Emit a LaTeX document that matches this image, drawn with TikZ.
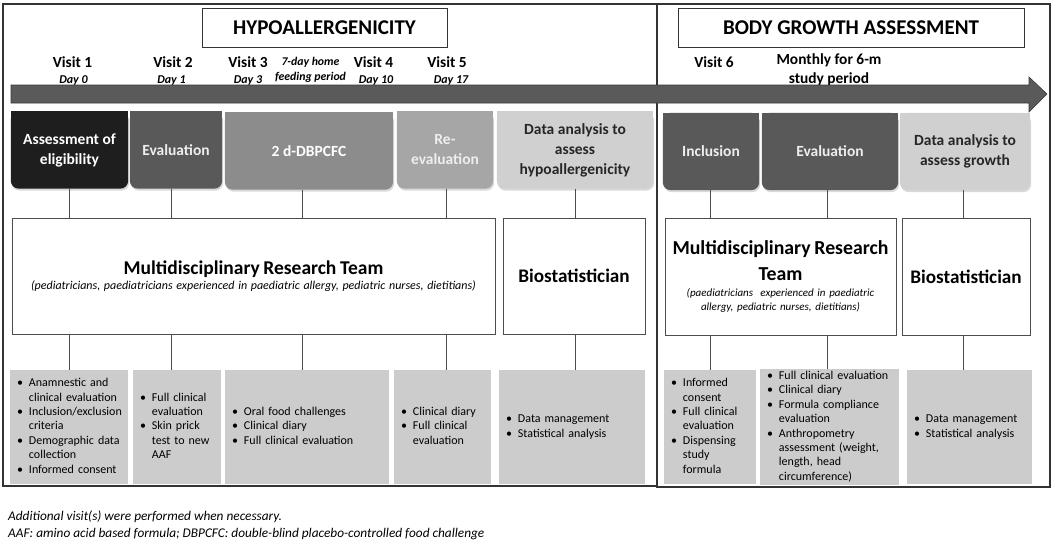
\documentclass[tikz,border=0pt]{standalone}
\usepackage{fontspec}
\setmainfont{Carlito}
\usetikzlibrary{backgrounds, shadows}

\definecolor{framegray}{HTML}{333333}
\definecolor{linegray}{HTML}{4D4D4D}
\definecolor{arrowfill}{HTML}{5A5A5A}
\definecolor{arrowdraw}{HTML}{3A3A3A}
\definecolor{phaseA}{HTML}{1E1E1E}
\definecolor{phaseB}{HTML}{595959}
\definecolor{phaseC}{HTML}{8C8C8C}
\definecolor{phaseD}{HTML}{A6A6A6}
\definecolor{phaseE}{HTML}{D0D0D0}
\definecolor{taskgray}{HTML}{CCCCCC}
\definecolor{softwhite}{HTML}{EEEEEE}

\newcommand{\fsz}[2]{\fontsize{#1}{#2}\selectfont}
\newcommand{\tasklist}[1]{\begin{tabular}{@{}l@{\hspace{6pt}}l@{}}#1\end{tabular}}

\begin{document}
\begin{tikzpicture}[
    x=1pt, y=-1pt,
    frame/.style = {draw=framegray, line width=1.2pt},
    titlebox/.style = {rectangle, draw=framegray, fill=white, minimum height=39pt, font=\bfseries\fsz{21}{25}},
    visit/.style = {font=\bfseries\fsz{15.4}{19}, align=center},
    day/.style = {font=\bfseries\itshape\fsz{12}{14}, align=center},
    phase/.style = {inner sep=0pt, align=center, minimum height=77pt, font=\bfseries\fsz{15.5}{20}},
    team/.style = {rectangle, draw=linegray, fill=white, align=center, minimum height=116pt, font=\itshape\fsz{11}{14.5}},
    tasks/.style = {rectangle, fill=taskgray, inner xsep=7pt, inner ysep=0pt, align=left, minimum height=114pt, font=\fsz{12}{14.4}},
    link/.style = {draw=linegray, line width=0.8pt},
    note/.style = {anchor=west, align=left, inner sep=0pt, font=\itshape\fsz{13.3}{17}}
    ]

  \useasboundingbox (0,0) rectangle (1053,542);

  % the two study parts
  \draw[frame] (3,4) rectangle (657,486);
  \draw[frame] (657,4) rectangle (1050,487);

  \node[titlebox, minimum width=245pt] (hypo) at (324.5,27.5) {HYPOALLERGENICITY};
  \node[titlebox, minimum width=346pt] (growth) at (851,27.5) {BODY GROWTH ASSESSMENT};

  % visits
  \node[visit] (v1) at (72.5,62) {Visit 1};
  \node[day] (day0) at (73.5,81) {Day 0};
  \node[visit] (v2) at (173,62) {Visit 2};
  \node[day] (day1) at (171.5,81) {Day 1};
  \node[visit] (v3) at (248,62) {Visit 3};
  \node[day] (day3) at (248,81) {Day 3};
  \node[day, font=\bfseries\itshape\fsz{11.8}{15}] (feed) at (310.5,70) {7-day home\\feeding period};
  \node[visit] (v4) at (373.5,62) {Visit 4};
  \node[day] (day10) at (376,81) {Day 10};
  \node[visit] (v5) at (447,62) {Visit 5};
  \node[day] (day17) at (451,81) {Day 17};
  \node[visit] (v6) at (714,62) {Visit 6};
  \node[visit] (monthly) at (829,69.5) {Monthly for 6-m\\study period};

  % time line
  \fill[arrowfill, draw=arrowdraw, line width=0.6pt]
    (11,85) -- (1029,85) -- (1029,77) -- (1047,94) -- (1029,112) -- (1029,103) -- (11,103) -- cycle;

  % phases
  \node[phase, text=white, minimum width=117pt] (assess) at (69.5,150) {Assessment of\\eligibility};
  \node[phase, text=softwhite, minimum width=92pt] (eval) at (176,150) {Evaluation};
  \node[phase, text=white, minimum width=168pt] (dbpcfc) at (309,151) {2 d-DBPCFC};
  \node[phase, text=softwhite, minimum width=96pt] (reeval) at (445,150) {Re-\\evaluation};
  \node[phase, text=black!85, minimum width=156pt] (datahypo) at (575,150) {Data analysis to\\assess\\hypoallergenicity};
  \node[phase, text=softwhite, minimum width=96pt] (incl) at (711,151.5) {Inclusion};
  \node[phase, text=softwhite, minimum width=136pt] (evalg) at (830,151.5) {Evaluation};
  \node[phase, text=black!85, minimum width=130pt] (datagrow) at (965,151.5) {Data analysis to\\assess growth};

  \begin{scope}[on background layer]
    \foreach \n/\c in {assess/phaseA, eval/phaseB, dbpcfc/phaseC, reeval/phaseD,
                      datahypo/phaseE, incl/phaseB, evalg/phaseB, datagrow/phaseE}{
      \fill[\c, rounded corners=8pt, drop shadow={opacity=0.3, shadow xshift=1pt, shadow yshift=-2pt}]
        (\n.north west) rectangle (\n.south east);
      \fill[\c] (\n.north west) rectangle (\n.east);
    }
  \end{scope}

  % who does it
  \node[team, text width=472pt, minimum width=483pt] (team) at (253.5,276)
    {{\upshape\bfseries\fsz{19.5}{22}Multidisciplinary Research Team\par}
     {\fsz{12}{14.5}(pediatricians, paediatricians experienced in paediatric allergy, pediatric nurses, dietitians)\par}};
  \node[team, font=\bfseries\fsz{19.2}{22}, minimum width=142pt] (stat) at (574,276) {Biostatistician};
  \node[team, text width=224pt, minimum width=231pt, minimum height=117pt] (teamg) at (780.5,276.5)
    {{\upshape\bfseries\fsz{19.8}{26}Multidisciplinary Research\\Team\par}\vspace{1pt}
     (paediatricians\ \ experienced in paediatric\\allergy, pediatric nurses, dietitians)};
  \node[team, font=\bfseries\fsz{19.2}{22}, minimum width=128pt, minimum height=117pt] (statg) at (966,276.5) {Biostatistician};

  % tasks
  \node[tasks, text width=104pt] (tasksA) at (69,427) {\tasklist{
    \textbullet & Anamnestic and\\ & clinical evaluation\\
    \textbullet & Inclusion/exclusion\\ & criteria\\
    \textbullet & Demographic data\\ & collection\\
    \textbullet & Informed consent}};
  \node[tasks, text width=74pt] (tasksB) at (177,427) {\tasklist{
    \textbullet & Full clinical\\ & evaluation\\
    \textbullet & Skin prick\\ & test to new\\ & AAF}};
  \node[tasks, text width=150pt] (tasksC) at (307,427) {\tasklist{
    \textbullet & Oral food challenges\\
    \textbullet & Clinical diary\\
    \textbullet & Full clinical evaluation}};
  \node[tasks, text width=83pt] (tasksD) at (442.5,427) {\tasklist{
    \textbullet & Clinical diary\\
    \textbullet & Full clinical\\ & evaluation}};
  \node[tasks, text width=132pt] (tasksE) at (572,427) {\tasklist{
    \textbullet & Data management\\
    \textbullet & Statistical analysis}};
  \node[tasks, text width=78pt] (tasksF) at (710,427) {\tasklist{
    \textbullet & Informed\\ & consent\\
    \textbullet & Full clinical\\ & evaluation\\
    \textbullet & Dispensing\\ & study\\ & formula}};
  \node[tasks, text width=125pt] (tasksG) at (829.5,427) {\tasklist{
    \textbullet & Full clinical evaluation\\
    \textbullet & Clinical diary\\
    \textbullet & Formula compliance\\ & evaluation\\
    \textbullet & Anthropometry\\ & assessment (weight,\\ & length, head\\ & circumference)}};
  \node[tasks, text width=111pt] (tasksH) at (969.5,427) {\tasklist{
    \textbullet & Data management\\
    \textbullet & Statistical analysis}};

  \foreach \p/\t/\b/\d in {assess/team/tasksA/0, eval/team/tasksB/-5, dbpcfc/team/tasksC/-7,
                          reeval/team/tasksD/1, datahypo/stat/tasksE/0, incl/teamg/tasksF/-1,
                          evalg/teamg/tasksG/-3, datagrow/statg/tasksH/-2}
    \draw[link] ([xshift=\d pt]\p.south) -- ([xshift=\d pt]\p.south |- \t.north)
                ([xshift=\d pt]\p.south |- \t.south) -- ([xshift=\d pt]\p.south |- \b.north);

  \node[note] (notes) at (8,525) {Additional visit(s) were performed when necessary.\\
    AAF: amino acid based formula; DBPCFC: double-blind placebo-controlled food challenge};

\end{tikzpicture}
\end{document}
